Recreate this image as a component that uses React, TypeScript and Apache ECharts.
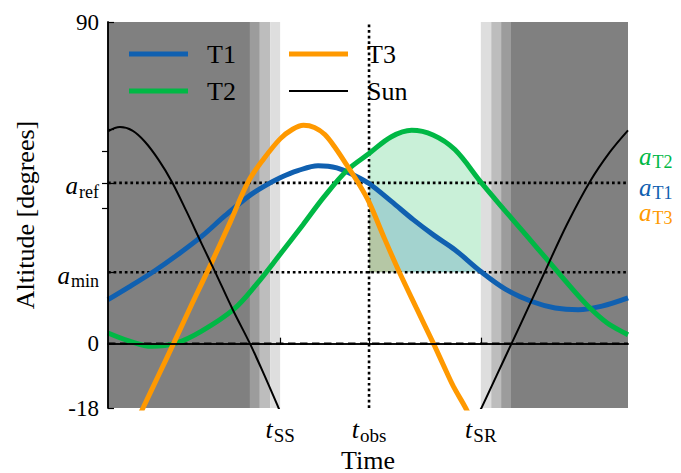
import React, { useEffect, useRef } from 'react';
import * as echarts from 'echarts';

// ---- data (time in arbitrary units 0..100, altitude in degrees) ----
const T1: [number, number][] = [
  [0, 12.3], [4, 15.8], [9, 20.4], [13.5, 25.0], [18, 30.0], [22.5, 35.8], [27, 41.2],
  [30, 44.0], [33.1, 46.4], [36.5, 48.4], [40.4, 49.8], [44, 49.2], [47.5, 47.0],
  [50.2, 44.8], [54.5, 39.8], [58.7, 34.7], [62.7, 30.3], [66.7, 26.3], [71.7, 20.2],
  [76.5, 15.2], [81.5, 11.8], [86, 10.0], [90.4, 9.5], [95, 10.5], [100, 12.8],
];
const T2: [number, number][] = [
  [0, 3.0], [4, 0.8], [8.4, -0.75], [13.2, 0.2], [18, 3.5], [24.1, 9.5], [28.5, 16.5],
  [33.1, 25.0], [37.5, 33.3], [41.5, 41.0], [45.9, 48.4], [50.2, 53.2], [54.5, 57.9],
  [58.4, 59.7], [62.5, 58.4], [66.7, 54.3], [71.7, 45.2], [76, 37.8], [80.5, 30.2],
  [85, 22.6], [88.7, 16.3], [92.4, 10.4], [96, 5.8], [100, 2.5],
];
const T3: [number, number][] = [
  [5.4, -22], [6.8, -17.8], [9.7, -8.9], [12.6, 0], [16.2, 11.3], [19.9, 22.6],
  [23.5, 34.0], [27, 45.4], [30, 51.8], [33.1, 57.3], [35.5, 60.0], [37.6, 61.1],
  [39.7, 60.5], [41.7, 58.5], [43.8, 54.6], [45.9, 50.0], [48.2, 44.8], [50.2, 39.6],
  [53, 30.0], [56, 20.1], [59.3, 10.0], [62.6, 0], [64.5, -6.0], [66.4, -11.9],
  [68.7, -17.8], [70.1, -22],
];
const SUN_EVENING: [number, number][] = [
  [0, 59.4], [2.3, 60.6], [4.7, 59.6], [7.1, 56.5], [9.7, 51.5], [12.25, 45.4],
  [15.1, 37.0], [18, 28.0], [20.6, 20.1], [24, 9.5], [27.3, 0], [30, -8.6],
  [32.75, -17.8], [33.5, -20.3],
];
const SUN_MORNING: [number, number][] = [
  [71.3, -19.2], [71.85, -17.9], [74.7, -9.0], [77.6, 0], [80.8, 10.0], [84, 20.1],
  [88.3, 33.5], [92.7, 45.4], [96.5, 53.6], [100, 59.7],
];

const X_MIN = 0;
const X_MAX = 100;
const Y_MIN = -18;
const Y_MAX = 90;
const A_REF = 45;
const A_MIN = 20;
const T_SS = 33.1;
const T_OBS = 50.2;
const T_SR = 71.7;

// twilight band edges (evening: sunset -> dark; morning: dark -> sunrise)
const EVENING_EDGES = [27.3, 29.2, 31.2, 33.1];
const MORNING_EDGES = [71.7, 73.7, 75.6, 77.5];
const BAND_COLORS = ['#9c9c9c', '#bdbdbd', '#dedede'];
const NIGHT_COLOR = '#808080';

const Y_TICKS = [-18, 0, 20, 45, 60, 90];
const Y_LABEL_VALUES = [-18, 0, 20, 45, 90];
// target altitudes at t_obs shown on the right axis
const RIGHT_TICKS = [38, 45, 53.7];
const RIGHT_NAMES = ['T3', 'T1', 'T2'];

const C_T1 = '#1060b0';
const C_T2 = '#00b845';
const C_T3 = '#ff9900';
const C_SUN = '#000000';

const SERIF = '"Liberation Serif", "Times New Roman", serif';

const near = (a: number, b: number) => Math.abs(a - b) < 1e-6;

const fillPts = (pts: [number, number][]) =>
  pts.filter(([x, y]) => x >= T_OBS - 1e-6 && x <= T_SR + 1e-6 && y >= A_MIN);

export default function App() {
  const ref = useRef<HTMLDivElement>(null);

  useEffect(() => {
    if (!ref.current) return;
    const chart = echarts.init(ref.current, undefined, { renderer: 'svg' });

    const bands: any[] = [];
    bands.push([{ xAxis: X_MIN, itemStyle: { color: NIGHT_COLOR } }, { xAxis: EVENING_EDGES[0] }]);
    for (let i = 0; i < 3; i++) {
      bands.push([{ xAxis: EVENING_EDGES[i], itemStyle: { color: BAND_COLORS[i] } }, { xAxis: EVENING_EDGES[i + 1] }]);
      bands.push([{ xAxis: MORNING_EDGES[i], itemStyle: { color: BAND_COLORS[2 - i] } }, { xAxis: MORNING_EDGES[i + 1] }]);
    }
    bands.push([{ xAxis: MORNING_EDGES[3], itemStyle: { color: NIGHT_COLOR } }, { xAxis: X_MAX }]);

    const mathRich = (size: number, sub: number, color: string, padA: number, padS: number) => ({
      a: { fontFamily: SERIF, fontStyle: 'italic', fontSize: size, color, padding: [padA, 0, 0, 0] },
      s: { fontFamily: SERIF, fontSize: sub, color, padding: [padS, 0, 0, 1] },
    });

    // compact math tokens: tiny line box, subscript lowered by top padding
    const compactRich = (key: string, size: number, sub: number, color: string, padS: number) => ({
      ['a' + key]: { fontFamily: SERIF, fontStyle: 'italic', fontSize: size, lineHeight: 8, color, verticalAlign: 'top' },
      ['s' + key]: { fontFamily: SERIF, fontSize: sub, lineHeight: 8, color, verticalAlign: 'top', padding: [padS, 0, 0, 1] },
    });

    const SMOOTH = 0.35;
    const lineSeries = (name: string, data: any[], color: string, width: number, z: number) => ({
      type: 'line',
      name,
      data,
      smooth: SMOOTH,
      symbol: 'none',
      color,
      itemStyle: { color },
      lineStyle: { color, width },
      z,
      silent: true,
    });

    const fillSeries = (data: any[], color: string) => ({
      type: 'line',
      data,
      smooth: SMOOTH,
      symbol: 'none',
      lineStyle: { width: 0, opacity: 0 },
      areaStyle: { color, opacity: 1, origin: A_MIN },
      z: 2,
      silent: true,
    });

    const refLine = (data: any[], type: number[], width: number) => ({
      type: 'line',
      data,
      symbol: 'none',
      silent: true,
      z: 3,
      lineStyle: { color: '#000', width, type, cap: 'butt' },
    });

    const rightColors: Record<string, string> = { T1: C_T1, T2: C_T2, T3: C_T3 };
    let rightRich: any = {};
    RIGHT_NAMES.forEach((n) => {
      rightRich = { ...rightRich, ...compactRich(n, 25, 18, rightColors[n], 9.5) };
    });
    const rightFormatter = (v: number) => {
      const i = RIGHT_TICKS.findIndex((t) => near(t, v));
      if (i < 0) return '';
      const n = RIGHT_NAMES[i];
      return `{a${n}|a}{s${n}|${n}}`;
    };
    const outerRight = RIGHT_TICKS.filter((_, i) => i !== 1);
    const middleRight = RIGHT_TICKS.filter((_, i) => i === 1);

    const legendCommon = {
      orient: 'vertical',
      itemWidth: 59,
      itemHeight: 14,
      itemGap: 11,
      padding: 0,
      selectedMode: false,
      itemStyle: { borderWidth: 0 },
      formatter: (name: string) => `{n|${name}}`,
      textStyle: {
        rich: { n: { fontFamily: SERIF, fontSize: 26, lineHeight: 26, color: '#000', padding: [0, 0, 0, 14] } },
      },
    };
    const thick = 'path://M0,0H59V5H0Z';
    const thin = 'path://M0,0H59V2H0Z';

    chart.setOption({
      animation: false,
      backgroundColor: '#ffffff',
      grid: { left: 108, top: 22, right: 53, bottom: 65, show: false, containLabel: false, outerBoundsMode: 'none' },
      legend: [
        { ...legendCommon, left: 129, top: 41, data: [{ name: 'T1', icon: thick }, { name: 'T2', icon: thick }] },
        { ...legendCommon, left: 289, top: 41, data: [{ name: 'T3', icon: thick }, { name: 'Sun', icon: thin }] },
      ],
      xAxis: [
        {
          type: 'value',
          min: X_MIN,
          max: X_MAX,
          position: 'bottom',
          z: 10,
          splitLine: { show: false },
          axisLine: { show: true, lineStyle: { color: '#000', width: 1.5 } },
          axisTick: { show: true, inside: true, length: 6, customValues: [T_SS, T_OBS, T_SR], lineStyle: { color: '#000', width: 1.2 } },
          axisLabel: {
            customValues: [T_SS, T_OBS, T_SR],
            margin: 8,
            verticalAlign: 'top',
            hideOverlap: false,
            showMinLabel: true,
            showMaxLabel: true,
            formatter: (v: number) =>
              near(v, T_SS) ? '{at|t}{st|SS}' : near(v, T_OBS) ? '{at|t}{st|obs}' : near(v, T_SR) ? '{at|t}{st|SR}' : '',
            rich: compactRich('t', 26, 19, '#000', 10),
          },
          name: 'Time',
          nameLocation: 'middle',
          nameGap: 40,
          nameMoveOverlap: false,
          nameTextStyle: { fontFamily: SERIF, fontSize: 26, lineHeight: 24, color: '#000', verticalAlign: 'top' },
        },
        {
          type: 'value',
          min: X_MIN,
          max: X_MAX,
          position: 'top',
          z: 10,
          splitLine: { show: false },
          axisLine: { show: true, lineStyle: { color: '#000', width: 1.5 } },
          axisTick: { show: false },
          axisLabel: { show: false },
        },
      ],
      yAxis: [
        {
          type: 'value',
          min: Y_MIN,
          max: Y_MAX,
          position: 'left',
          z: 10,
          splitLine: { show: false },
          axisLine: { show: true, lineStyle: { color: '#000', width: 1.5 } },
          axisTick: { show: true, inside: true, length: 6, customValues: Y_TICKS, lineStyle: { color: '#000', width: 1.2 } },
          axisLabel: {
            customValues: Y_LABEL_VALUES,
            margin: 9,
            hideOverlap: false,
            showMinLabel: true,
            showMaxLabel: true,
            fontFamily: SERIF,
            fontSize: 23,
            color: '#000',
            formatter: (v: number) =>
              near(v, A_MIN) ? '{a|a}{s|min}' : near(v, A_REF) ? '{a|a}{s|ref}' : '{n|' + String(v) + '}',
            rich: { ...mathRich(25, 18, '#000', 6, 18), n: { fontFamily: SERIF, fontSize: 23, color: '#000' } },
          },
          name: 'Altitude [degrees]',
          nameLocation: 'middle',
          nameGap: 70,
          nameMoveOverlap: false,
          nameTextStyle: { fontFamily: SERIF, fontSize: 26, color: '#000' },
        },
        {
          type: 'value',
          min: Y_MIN,
          max: Y_MAX,
          position: 'right',
          z: 10,
          splitLine: { show: false },
          axisLine: { show: true, lineStyle: { color: '#000', width: 1.5 } },
          axisTick: { show: true, inside: true, length: 6, customValues: RIGHT_TICKS, lineStyle: { color: '#000', width: 1.2 } },
          axisLabel: {
            customValues: outerRight,
            margin: 11,
            verticalAlign: 'bottom',
            hideOverlap: false,
            showMinLabel: true,
            showMaxLabel: true,
            formatter: rightFormatter,
            rich: rightRich,
          },
        },
        {
          type: 'value',
          min: Y_MIN,
          max: Y_MAX,
          position: 'right',
          offset: 0,
          z: 10,
          splitLine: { show: false },
          axisLine: { show: false },
          axisTick: { show: false },
          axisLabel: {
            customValues: middleRight,
            margin: 11,
            verticalAlign: 'bottom',
            hideOverlap: false,
            showMinLabel: true,
            showMaxLabel: true,
            formatter: rightFormatter,
            rich: rightRich,
          },
        },
      ],
      series: [
        {
          type: 'line',
          data: [],
          silent: true,
          markArea: { silent: true, z: 1, data: bands },
        },
        fillSeries(fillPts(T2), 'rgba(0,184,69,0.21)'),
        fillSeries(fillPts(T1), 'rgba(16,96,176,0.2)'),
        fillSeries(fillPts(T3), 'rgba(255,153,0,0.2)'),
        refLine([[X_MIN, A_REF], [X_MAX, A_REF]], [2.7, 2.9], 2.6),
        refLine([[X_MIN, A_MIN], [X_MAX, A_MIN]], [2.7, 2.9], 2.6),
        refLine([[T_OBS, Y_MIN], [T_OBS, Y_MAX]], [2.7, 2.9], 2.6),
        refLine([[X_MIN, 0], [X_MAX, 0]], [7.5, 4.5], 2.2),
        lineSeries('T1', T1, C_T1, 5, 4),
        lineSeries('T2', T2, C_T2, 5, 5),
        lineSeries('T3', T3, C_T3, 5, 6),
        lineSeries('Sun', SUN_EVENING, C_SUN, 2, 7),
        lineSeries('Sun', SUN_MORNING, C_SUN, 2, 7),
      ],
    });

    return () => chart.dispose();
  }, []);

  return (
    <div
      ref={ref}
      style={{ position: 'fixed', left: 0, top: 0, width: 681, height: 473, background: '#fff' }}
    />
  );
}
